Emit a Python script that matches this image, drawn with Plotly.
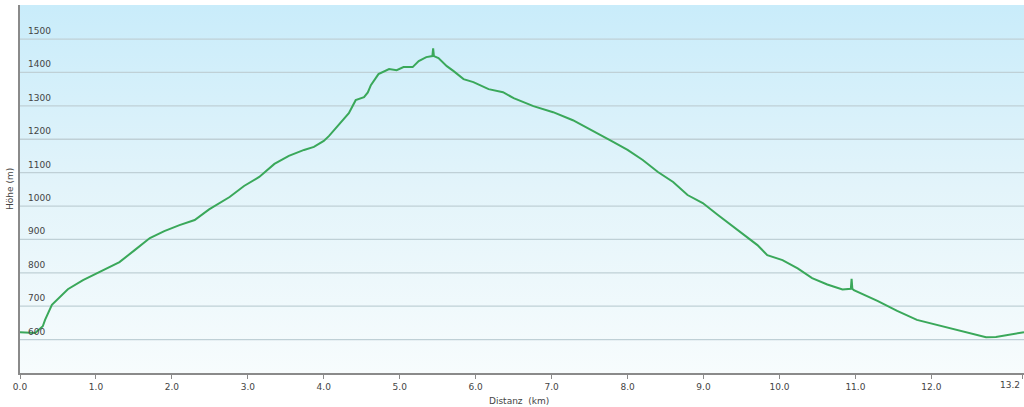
import plotly.graph_objects as go

# Höhenprofil (Distanz in km, Höhe in m)
distanz = [0.0, 0.10, 0.20, 0.30, 0.33, 0.42, 0.52, 0.63, 0.83, 1.09, 1.31, 1.51, 1.71,
           1.90, 2.10, 2.30, 2.49, 2.76, 2.95, 3.15, 3.35, 3.54, 3.74, 3.87, 4.00,
           4.07, 4.20, 4.33, 4.42, 4.53, 4.58, 4.62, 4.72, 4.86, 4.96, 5.05, 5.17,
           5.25, 5.35, 5.43, 5.44, 5.45, 5.51, 5.62, 5.71, 5.84, 5.97, 6.17, 6.36,
           6.50, 6.76, 7.02, 7.28, 7.55, 7.81, 8.00, 8.20, 8.40, 8.60, 8.79, 8.99,
           9.19, 9.45, 9.71, 9.84, 10.04, 10.24, 10.43, 10.63, 10.83, 10.94, 10.95,
           10.96, 10.98, 11.29, 11.55, 11.81, 12.07, 12.34, 12.60, 12.72, 12.85,
           13.00, 13.22]
hoehe = [622, 620, 620, 640, 659, 704, 725, 751, 778, 808, 832, 868, 904,
         925, 943, 958, 990, 1027, 1060, 1087, 1126, 1150, 1168, 1177, 1195,
         1210, 1245, 1278, 1317, 1326, 1340, 1362, 1395, 1410, 1407, 1416, 1416,
         1434, 1446, 1449, 1472, 1449, 1443, 1419, 1404, 1380, 1371, 1350, 1341,
         1323, 1299, 1281, 1257, 1225, 1192, 1168, 1138, 1102, 1072, 1033, 1009,
         973, 928, 883, 853, 838, 813, 784, 765, 750, 752, 782, 752, 748, 716, 686,
         659, 644, 629, 614, 607, 608, 614, 622]

y_ticks = [600, 700, 800, 900, 1000, 1100, 1200, 1300, 1400, 1500]
x_ticks = [0, 1, 2, 3, 4, 5, 6, 7, 8, 9, 10, 11, 12, 13.2]
x_labels = ["0.0", "1.0", "2.0", "3.0", "4.0", "5.0", "6.0", "7.0", "8.0", "9.0",
            "10.0", "11.0", "12.0", "13.2"]

x_range = [0, 13.22]
y_range = [500, 1602]

font = "DejaVu Sans, Verdana, sans-serif"

fig = go.Figure()

# Hintergrund-Verlauf (blau oben, fast weiss unten)
fig.add_trace(go.Scatter(
    x=[x_range[0], x_range[1], x_range[1], x_range[0]],
    y=[y_range[0], y_range[0], y_range[1], y_range[1]],
    fill="toself", mode="none", hoverinfo="skip", showlegend=False,
    fillgradient=dict(type="vertical", start=y_range[0], stop=y_range[1],
                      colorscale=[[0, "#f7fcfd"], [0.5, "#e3f4fa"], [1, "#c9ecfa"]]),
))

# Fläche unter dem Profil
fig.add_trace(go.Scatter(
    x=distanz, y=[y_range[0]] * len(distanz), mode="none",
    hoverinfo="skip", showlegend=False,
))
fig.add_trace(go.Scatter(
    x=distanz, y=hoehe, fill="tonexty", mode="none", hoverinfo="skip",
    showlegend=False,
    fillgradient=dict(type="vertical", start=y_range[0], stop=max(hoehe),
                      colorscale=[[0, "#ebfbf3"], [1, "#d6f3e6"]]),
))

# Gitterlinien über der Füllung
gx, gy = [], []
for v in y_ticks:
    gx += [x_range[0], x_range[1], None]
    gy += [v, v, None]
fig.add_trace(go.Scatter(
    x=gx, y=gy, mode="lines", line=dict(color="#bfd0d6", width=1.3),
    hoverinfo="skip", showlegend=False,
))

# Profillinie
fig.add_trace(go.Scatter(
    x=distanz, y=hoehe, mode="lines", line=dict(color="#3aa85a", width=2),
    showlegend=False, name="Höhe",
))

# Y-Beschriftungen innen, oberhalb der Gitterlinien
annotations = [
    dict(text=str(v), xref="paper", yref="y", x=0, y=v, xshift=6, yshift=1,
         xanchor="left", yanchor="bottom", showarrow=False,
         font=dict(size=9, color="#444"))
    for v in y_ticks
]
# letzte X-Beschriftung rechtsbündig am Rand
annotations.append(
    dict(text=x_labels[-1], xref="paper", yref="paper", x=1, xshift=-2, y=0,
         yshift=-12, xanchor="right", yanchor="middle", showarrow=False,
         font=dict(size=9, color="#444"))
)
annotations += [
    dict(text="Höhe (m)", xref="paper", yref="paper", x=0, xshift=-10, y=0.5,
         textangle=-90, showarrow=False, xanchor="center", yanchor="middle",
         font=dict(size=9, color="#444")),
    dict(text="Distanz  (km)", xref="paper", yref="paper", x=0.497, y=0,
         yshift=-28, showarrow=False, xanchor="center", yanchor="middle",
         font=dict(size=9, color="#444")),
]

fig.update_layout(
    width=1024, height=407,
    margin=dict(l=20, r=0, t=5, b=34, autoexpand=False),
    paper_bgcolor="white",
    plot_bgcolor="white",
    font=dict(family=font, size=9, color="#444"),
    annotations=annotations,
)

fig.update_xaxes(
    range=x_range, tickvals=x_ticks, ticktext=x_labels[:-1] + [""],
    showgrid=False, zeroline=False, automargin=False,
    showline=True, linecolor="#8a8a8a", linewidth=2,
    ticks="outside", ticklen=4, tickcolor="#8a8a8a",
)
fig.update_yaxes(
    range=y_range, showticklabels=False,
    showgrid=False, zeroline=False, automargin=False,
    showline=True, linecolor="#8a8a8a", linewidth=1.5, ticks="",
)

fig.write_html("out.html", config={"displayModeBar": False},
               post_script="document.body.style.margin='0';")
